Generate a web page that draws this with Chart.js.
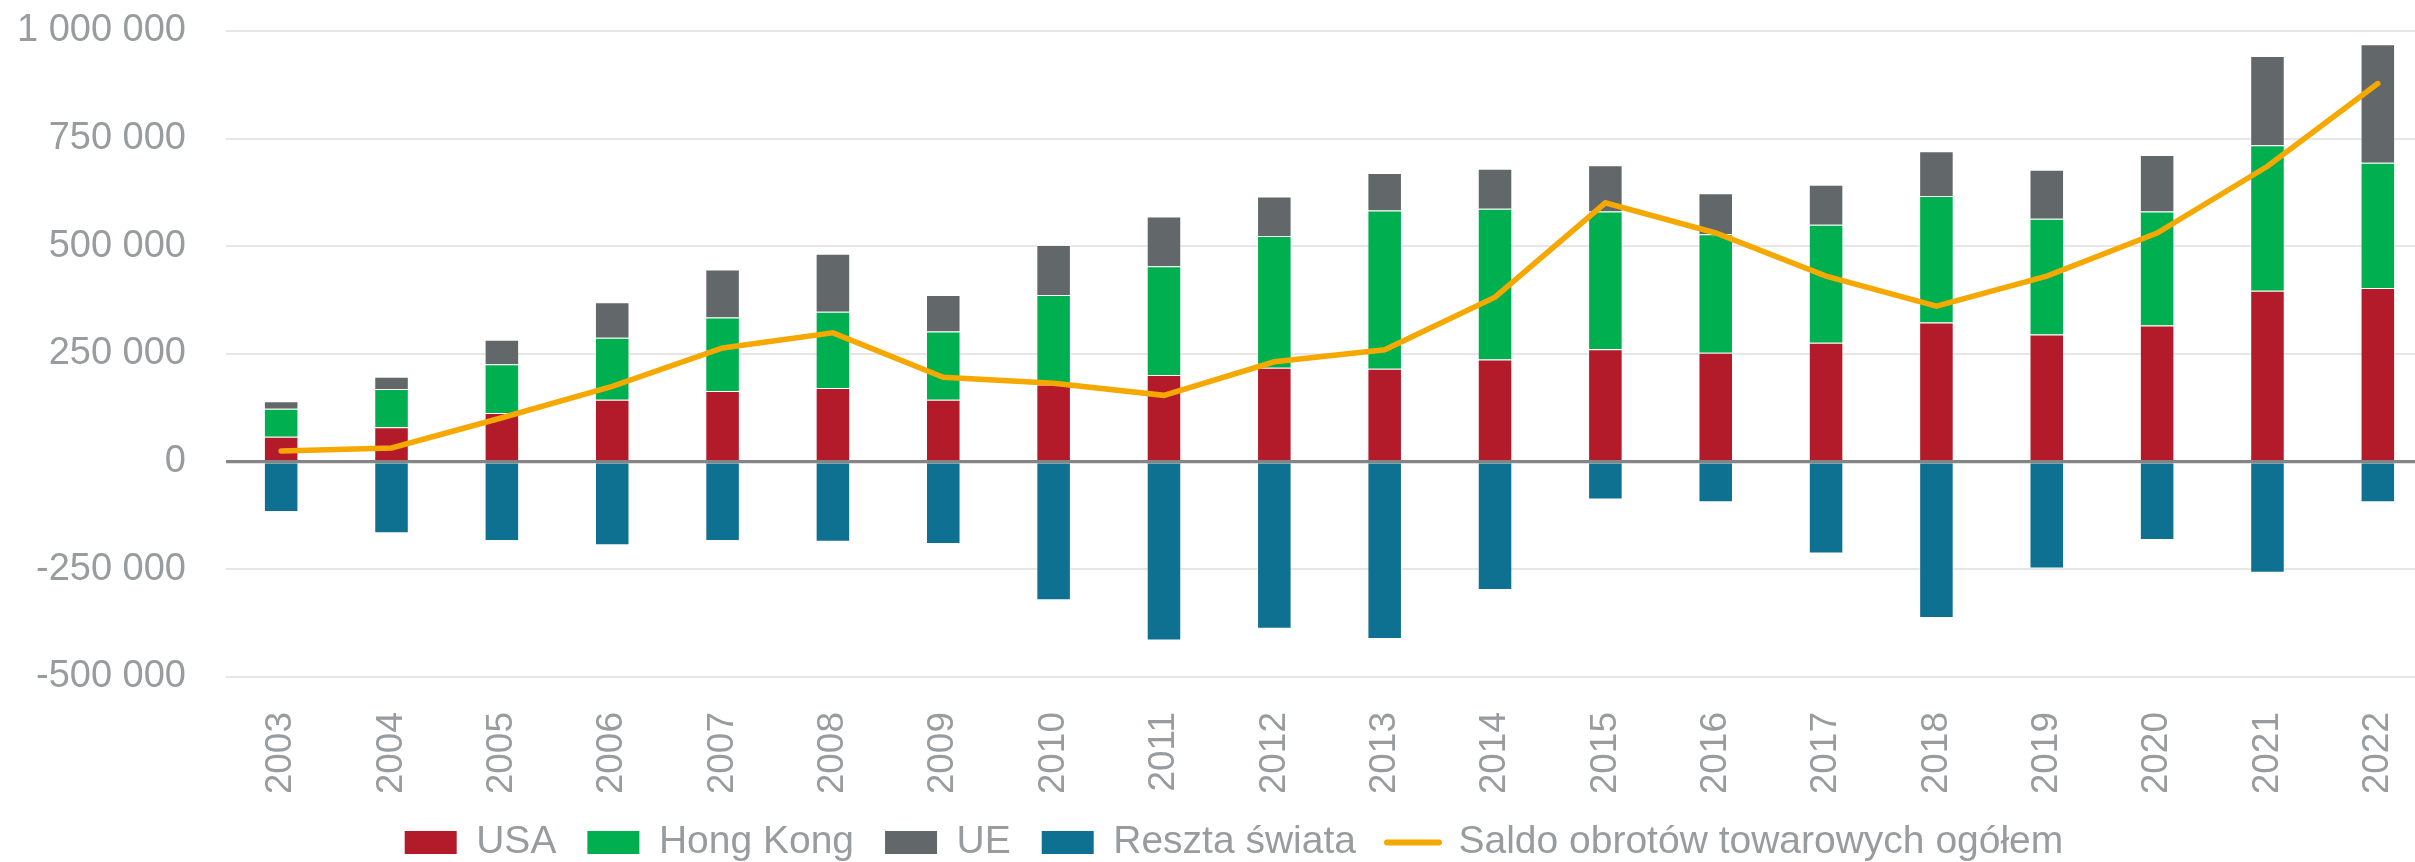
<!DOCTYPE html>
<html lang="pl">
<head>
<meta charset="utf-8">
<title>Saldo obrotów towarowych</title>
<script src="https://cdn.jsdelivr.net/npm/chart.js@4.4.1/dist/chart.umd.min.js"></script>
<style>
    html, body {
        margin: 0;
        padding: 0;
        background: #ffffff;
        overflow: hidden;
    }
    #wrap {
        width: 2468px;
        height: 872px;
    }
</style>
</head>
<body>
<div id="wrap">
    <canvas id="saldoChart" width="2468" height="872"></canvas>
</div>
<script>
// Data
const years = ['2003', '2004', '2005', '2006', '2007', '2008', '2009', '2010', '2011', '2012',
               '2013', '2014', '2015', '2016', '2017', '2018', '2019', '2020', '2021', '2022'];

const usa = [58000, 80000, 113000, 144000, 164000, 171000, 144000, 179000, 201000, 218000,
             216000, 237000, 261000, 253000, 276000, 323000, 295000, 316000, 397000, 403000];

const hongKong = [65000, 89000, 113000, 144000, 171000, 177000, 158000, 208000, 253000, 306000,
                  367000, 350000, 320000, 275000, 274000, 294000, 269000, 265000, 338000, 291000];

const ue = [17000, 28000, 57000, 82000, 111000, 135000, 85000, 116000, 115000, 92000,
            87000, 93000, 107000, 95000, 93000, 104000, 114000, 131000, 207000, 275000];

const resztaSwiata = [-117000, -166000, -184000, -194000, -184000, -186000, -191000, -322000, -415000, -388000,
                      -412000, -298000, -88000, -94000, -213000, -363000, -248000, -182000, -258000, -94000];

const saldoOgolem = [25000, 32000, 102000, 175000, 264000, 299000, 196000, 182000, 154000, 232000,
                     260000, 382000, 601000, 531000, 431000, 361000, 431000, 531000, 686000, 878000];

const yMin = -500000;
const yMax = 1000000;
const yStep = 250000;

document.addEventListener('DOMContentLoaded', function() {
    const textGray = '#989c9f';
    const fontFamily = "'Liberation Sans', Arial, sans-serif";

    // 1000000 -> "1 000 000"
    function formatTick(value) {
        const s = Math.abs(value).toString().replace(/\B(?=(\d{3})+(?!\d))/g, ' ');
        return (value < 0 ? '-' : '') + s;
    }

    function barSet(label, data, color) {
        return {
            type: 'bar',
            label: label,
            data: data,
            backgroundColor: color,
            borderColor: 'rgba(255, 255, 255, 0.45)',
            borderWidth: 1,
            stack: 'kraje',
            yAxisID: 'y',
            order: 1,
            barPercentage: 0.313,
            categoryPercentage: 1.0
        };
    }

    // zero axis line is drawn over the bars, as in the original
    const zeroLine = {
        id: 'zeroLine',
        afterDatasetsDraw(chart) {
            const y = chart.scales.y.getPixelForValue(0);
            const area = chart.chartArea;
            const c = chart.ctx;
            c.save();
            c.strokeStyle = '#858585';
            c.lineWidth = 3;
            c.beginPath();
            c.moveTo(area.left, y);
            c.lineTo(area.right, y);
            c.stroke();
            c.restore();
        }
    };

    const ctx = document.getElementById('saldoChart');

    new Chart(ctx, {
        data: {
            labels: years,
            datasets: [
                barSet('USA', usa, '#b31b2b'),
                barSet('Hong Kong', hongKong, '#00af50'),
                barSet('UE', ue, '#626769'),
                barSet('Reszta świata', resztaSwiata, '#0e7191'),
                {
                    type: 'line',
                    label: 'Saldo obrotów towarowych ogółem',
                    data: saldoOgolem,
                    borderColor: '#f5a800',
                    backgroundColor: '#f5a800',
                    borderWidth: 5.5,
                    borderCapStyle: 'round',
                    borderJoinStyle: 'miter',
                    pointRadius: 0,
                    pointHoverRadius: 0,
                    tension: 0,
                    fill: false,
                    stack: 'saldo',
                    yAxisID: 'y',
                    order: 0
                }
            ]
        },
        plugins: [zeroLine],
        options: {
            responsive: false,
            animation: false,
            devicePixelRatio: 1,
            layout: {
                padding: { top: 31, left: 0, right: 0, bottom: 0 }
            },
            plugins: {
                tooltip: { enabled: false },
                legend: {
                    position: 'bottom',
                    labels: {
                        color: textGray,
                        font: { family: fontFamily, size: 39 },
                        usePointStyle: true,
                        pointStyleWidth: 52,
                        boxHeight: 23,
                        padding: 31,
                        sort: (a, b) => a.datasetIndex - b.datasetIndex,
                        generateLabels: function(chart) {
                            const items = Chart.defaults.plugins.legend.labels.generateLabels(chart);
                            return items.map(item => {
                                if (item.datasetIndex === 4) {
                                    item.pointStyle = 'line';
                                    item.strokeStyle = '#f5a800';
                                    item.lineWidth = 6;
                                    item.lineCap = 'round';
                                } else {
                                    item.pointStyle = 'rect';
                                    item.lineWidth = 0;
                                }
                                return item;
                            });
                        }
                    }
                }
            },
            scales: {
                x: {
                    stacked: true,
                    grid: { display: false },
                    border: { display: false },
                    ticks: {
                        color: textGray,
                        font: { family: fontFamily, size: 37 },
                        maxRotation: 90,
                        minRotation: 90,
                        autoSkip: false,
                        padding: 27
                    },
                    afterFit: function(scale) {
                        scale.height = 115;
                        scale.paddingLeft = 0;
                        scale.paddingRight = 0;
                    }
                },
                y: {
                    stacked: true,
                    position: 'left',
                    min: yMin,
                    max: yMax,
                    border: { display: false },
                    grid: {
                        drawTicks: false,
                        color: c => c.tick && c.tick.value === 0 ? '#858585' : '#e6e6e6',
                        lineWidth: c => c.tick && c.tick.value === 0 ? 3 : 2
                    },
                    ticks: {
                        stepSize: yStep,
                        color: textGray,
                        font: { family: fontFamily, size: 38 },
                        padding: 40,
                        callback: value => formatTick(value)
                    },
                    afterFit: function(scale) {
                        scale.width = 226;
                        scale.paddingTop = 0;
                        scale.paddingBottom = 0;
                    }
                },
                // empty right-hand strip, keeps the legend centred like the original
                yRight: {
                    position: 'right',
                    min: yMin,
                    max: yMax,
                    border: { display: false },
                    grid: { display: false },
                    ticks: { display: false },
                    afterFit: function(scale) {
                        scale.width = 35;
                        scale.paddingTop = 0;
                        scale.paddingBottom = 0;
                    }
                }
            }
        }
    });
});
</script>
</body>
</html>
